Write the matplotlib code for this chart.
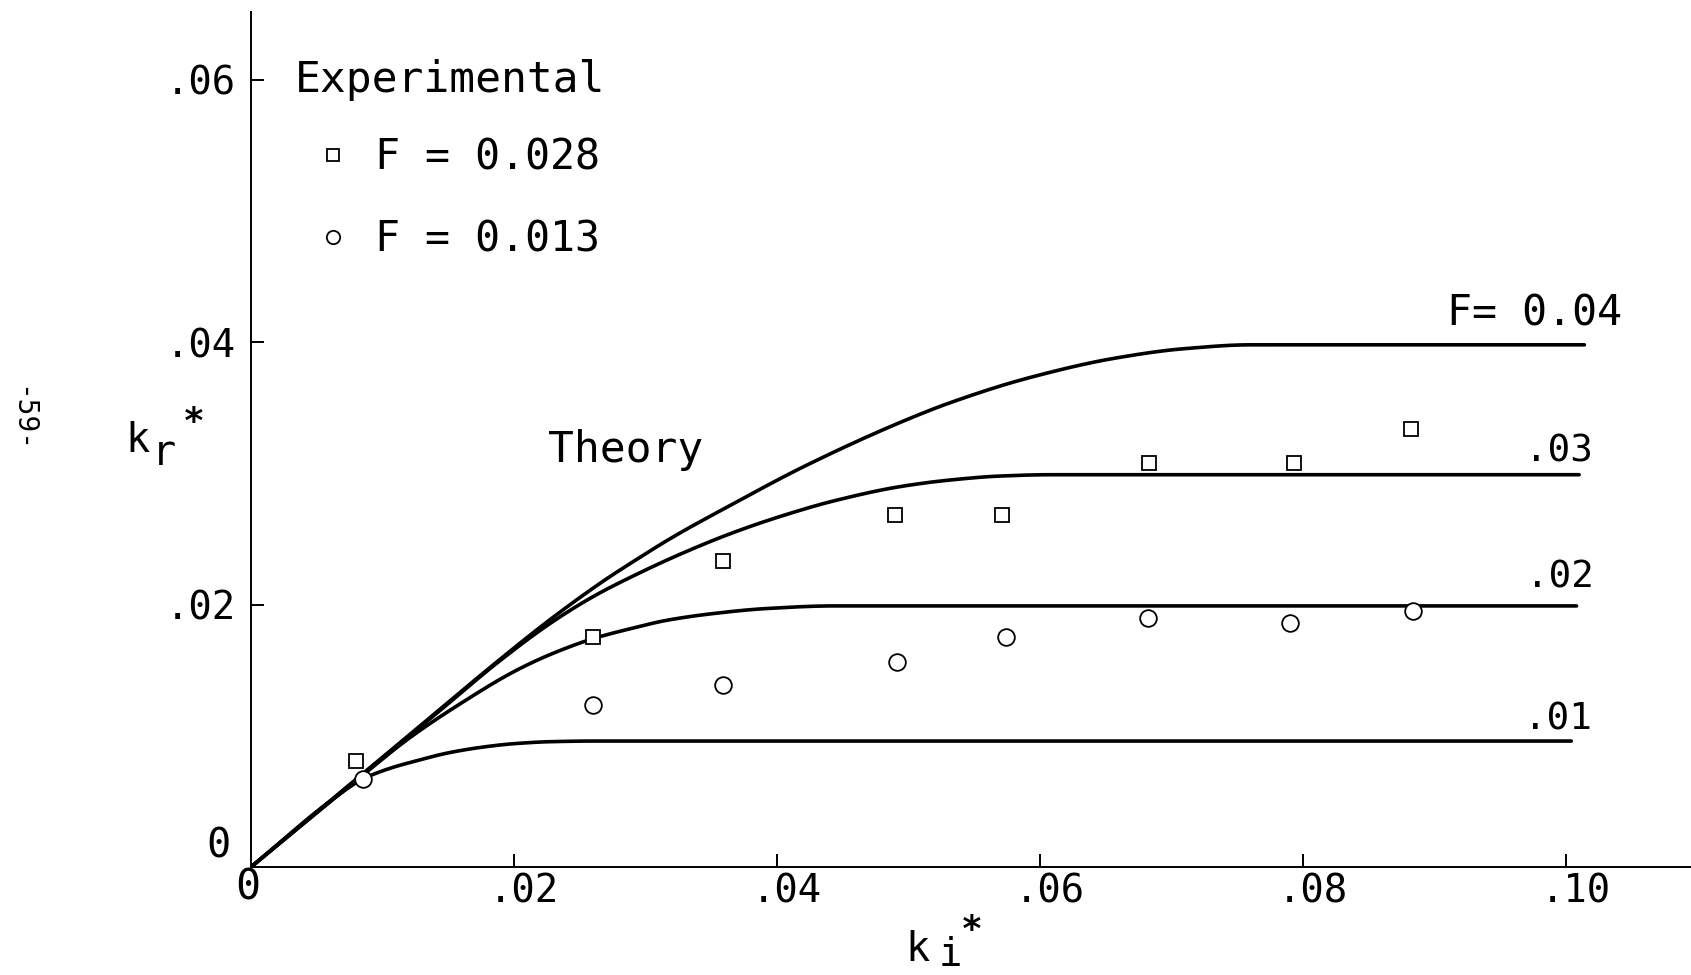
import numpy as np
import matplotlib
matplotlib.use("Agg")
import matplotlib.pyplot as plt
from matplotlib import transforms

# ---------------- data ----------------
# Theory curves k_r* vs k_i*
f01_x = [0.0, 0.0060, 0.0085, 0.0105, 0.0126, 0.0150, 0.0177, 0.0200, 0.0227, 0.0260, 0.1004]
f01_y = [0.0, 0.0050, 0.0067, 0.0075, 0.0081, 0.0087, 0.00915, 0.0094, 0.00955, 0.0096, 0.0096]

f02_x = [0.0, 0.0085, 0.0120, 0.0160, 0.0202, 0.0230, 0.0260, 0.0290, 0.0316, 0.0350, 0.0392, 0.0443, 0.1008]
f02_y = [0.0, 0.0070, 0.0098, 0.0125, 0.0150, 0.0163, 0.0174, 0.0182, 0.0188, 0.0193, 0.0197, 0.0199, 0.0199]

f03_x = [0.0, 0.0085, 0.0141, 0.0189, 0.0228, 0.0260, 0.0291, 0.0330, 0.0367, 0.0405, 0.0443, 0.0494, 0.0532, 0.0570, 0.0608, 0.1010]
f03_y = [0.0, 0.0071, 0.0117, 0.0157, 0.0186, 0.0206, 0.0222, 0.0240, 0.0255, 0.0268, 0.0279, 0.0290, 0.0295, 0.0298, 0.0299, 0.0299]

f04_x = [0.0, 0.0085, 0.0141, 0.0189, 0.0228, 0.0268, 0.0291, 0.0320, 0.0367, 0.0420, 0.0494, 0.0532, 0.0592, 0.0658, 0.0709, 0.0760, 0.1014]
f04_y = [0.0, 0.0071, 0.0118, 0.0158, 0.0189, 0.0218, 0.0233, 0.0251, 0.0277, 0.0305, 0.0339, 0.0354, 0.0373, 0.0388, 0.0395, 0.0398, 0.0398]

curve_labels = ['.01', '.02', '.03', 'F= 0.04']

# Experimental points
sq_x = [0.0080, 0.0260, 0.0359, 0.0490, 0.0571, 0.0683, 0.0793, 0.0882]
sq_y = [0.0081, 0.01755, 0.0233, 0.0268, 0.0268, 0.0308, 0.0308, 0.0334]
ci_x = [0.0085, 0.0260, 0.0359, 0.0491, 0.0574, 0.0682, 0.0790, 0.0884]
ci_y = [0.0067, 0.01235, 0.0139, 0.0156, 0.0175, 0.0190, 0.0186, 0.0195]
legend_labels = ['F = 0.028', 'F = 0.013']

xticks = [0.02, 0.04, 0.06, 0.08, 0.10]
xtick_labels = ['.02', '.04', '.06', '.08', '.10']
yticks = [0.02, 0.04, 0.06]
ytick_labels = ['.02', '.04', '.06']


def smooth(x, y, n=600):
    """Monotone cubic (Fritsch-Carlson) rendering of a curve through read points."""
    x = np.asarray(x, float)
    y = np.asarray(y, float)
    h = np.diff(x)
    d = np.diff(y) / h
    m = np.zeros_like(y)
    m[0] = d[0]
    m[-1] = d[-1]
    for k in range(1, len(x) - 1):
        if d[k - 1] * d[k] <= 0:
            m[k] = 0.0
        else:
            w1 = 2 * h[k] + h[k - 1]
            w2 = h[k] + 2 * h[k - 1]
            m[k] = (w1 + w2) / (w1 / d[k - 1] + w2 / d[k])
    xs = np.linspace(x[0], x[-1], n)
    idx = np.clip(np.searchsorted(x, xs) - 1, 0, len(x) - 2)
    t = (xs - x[idx]) / h[idx]
    h00 = 2 * t**3 - 3 * t**2 + 1
    h10 = t**3 - 2 * t**2 + t
    h01 = -2 * t**3 + 3 * t**2
    h11 = t**3 - t**2
    ys = h00 * y[idx] + h10 * h[idx] * m[idx] + h01 * y[idx + 1] + h11 * h[idx] * m[idx + 1]
    return xs, ys


# ---------------- figure ----------------
plt.rcParams['font.family'] = ['DejaVu Sans Mono', 'DejaVu Sans']
W, H = 1691, 975
fig = plt.figure(figsize=(W / 100, H / 100), dpi=100)
ax = fig.add_axes([251 / W, 108 / H, 1440 / W, 855 / H])
ax.set_xlim(0, 1440 / 13150)
ax.set_ylim(0, 855 / 13120)

for s in ['top', 'right']:
    ax.spines[s].set_visible(False)
for s in ['left', 'bottom']:
    ax.spines[s].set_linewidth(1.4)
    ax.spines[s].set_color('black')

lw = 2.6
curves = [(f01_x, f01_y), (f02_x, f02_y), (f03_x, f03_y), (f04_x, f04_y)]
label_offsets = [(21, 12), (17, 18), (14, 13), (38, 19)]
for (cx, cy), lab, off in zip(curves, curve_labels, label_offsets):
    sx, sy = smooth(cx, cy)
    ax.plot(sx, sy, color='black', lw=lw, solid_capstyle='round', zorder=2)
    ax.annotate(lab, xy=(cx[-1], cy[-1]), xytext=off, textcoords='offset pixels',
                ha='right', va='baseline', fontsize=30 if lab.startswith('F') else 27)

h_sq, = ax.plot(sq_x, sq_y, ls='none', marker='s', ms=10.5, mfc='white', mec='black',
                mew=1.3, zorder=3)
h_ci, = ax.plot(ci_x, ci_y, ls='none', marker='o', ms=12, mfc='white', mec='black',
                mew=1.3, zorder=3)

leg = ax.legend([h_sq, h_ci], legend_labels, title='Experimental', loc='upper left',
                bbox_to_anchor=(0.0306, 0.9448), borderaxespad=0, borderpad=0,
                frameon=False, alignment='left', markerscale=0.8,
                handlelength=1.82, handletextpad=0.11, labelspacing=0.97,
                prop={'size': 30}, title_fontsize=31)
# slightly tighter gap between the title and the first entry
leg._legend_box.sep = 25.2

ax.text(0.02259, 0.0309, 'Theory', fontsize=31, ha='left', va='baseline')

# ticks
ax.set_xticks(xticks)
ax.set_xticklabels(xtick_labels)
ax.set_yticks(yticks)
ax.set_yticklabels(ytick_labels)
ax.tick_params(axis='both', direction='in', length=9.5, width=1.4, labelsize=28)
ax.tick_params(axis='x', pad=4)
ax.tick_params(axis='y', pad=11)
shift = transforms.ScaledTranslation(0.10, 0, fig.dpi_scale_trans)
for t in ax.get_xticklabels():
    t.set_transform(t.get_transform() + shift)


def fp(x, y):
    return x / W, 1 - y / H


# zero labels
fig.text(*fp(231, 846), '0', fontsize=29, ha='right', va='center')
fig.text(*fp(248, 866), '0', fontsize=30, ha='center', va='top')

# axis labels
fig.text(*fp(905, 961), 'k', fontsize=29, ha='left', va='baseline')
fig.text(*fp(939, 966), 'i', fontsize=28, ha='left', va='baseline')
fig.text(*fp(961, 913), '*', fontsize=26, ha='left', va='top', fontweight='bold')

fig.text(*fp(125, 452), 'k', fontsize=29, ha='left', va='baseline')
fig.text(*fp(152, 465), 'r', fontsize=29, ha='left', va='baseline')
fig.text(*fp(183, 405), '*', fontsize=26, ha='left', va='top', fontweight='bold')

# page number
fig.text(*fp(21, 419), '-59-', fontsize=20, rotation=-90, ha='center', va='center')

fig.savefig('out.png', dpi=100)
